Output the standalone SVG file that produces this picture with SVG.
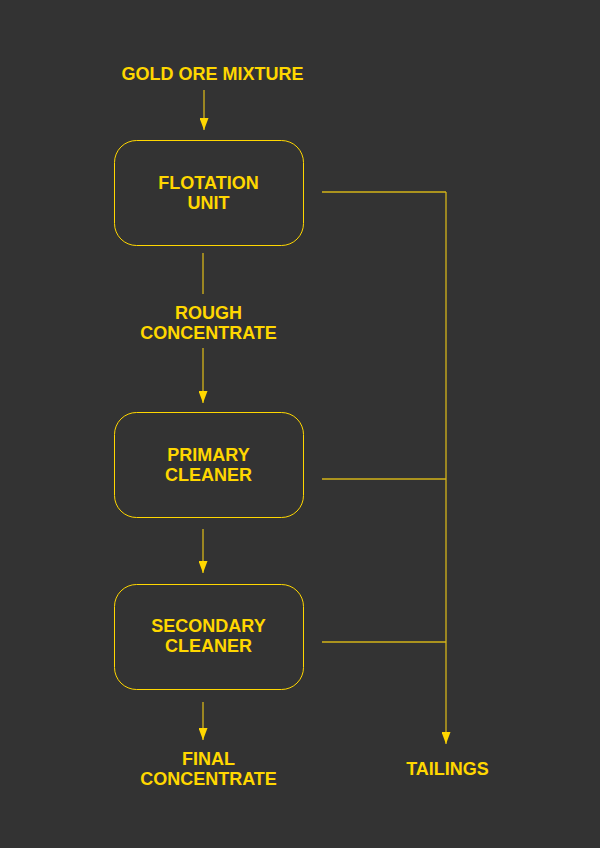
<svg xmlns="http://www.w3.org/2000/svg" width="600" height="848" viewBox="0 0 600 848">
<defs>
<marker id="ah" markerWidth="12" markerHeight="9" refX="12" refY="4.5" orient="auto" markerUnits="userSpaceOnUse" viewBox="0 0 12 9">
<path d="M0,0 L12,4.5 L0,9 Z" fill="#FFD700"/>
</marker>
</defs>
<style>
.box{fill:none;stroke:#FFD700;stroke-width:1}
.lbl{font-family:"Liberation Sans",Arial,sans-serif;font-weight:bold;font-size:18px;fill:#FFD700;text-anchor:middle}
.c{fill:none;stroke:#D4B419;stroke-width:1.3}
</style>
<rect width="600" height="848" fill="#333333"/>
<g id="connectors">
<line class="c" x1="204" y1="90" x2="204" y2="130" marker-end="url(#ah)"/>
<line class="c" x1="203" y1="253" x2="203" y2="294"/>
<line class="c" x1="203" y1="348" x2="203" y2="403" marker-end="url(#ah)"/>
<line class="c" x1="203" y1="529" x2="203" y2="573" marker-end="url(#ah)"/>
<line class="c" x1="203" y1="702" x2="203" y2="740" marker-end="url(#ah)"/>
<line class="c" x1="322" y1="192" x2="446" y2="192"/>
<line class="c" x1="322" y1="479" x2="446" y2="479"/>
<line class="c" x1="322" y1="642" x2="446" y2="642"/>
<line class="c" x1="446" y1="192" x2="446" y2="744" marker-end="url(#ah)"/>
</g>
<g id="gold-ore-mixture"><text class="lbl" x="212.5" y="80">GOLD ORE MIXTURE</text></g>
<g id="flotation-unit">
<rect class="box" x="114.5" y="140.5" width="189" height="105" rx="22"/>
<text class="lbl" x="208.5" y="189">FLOTATION</text>
<text class="lbl" x="208.5" y="209">UNIT</text>
</g>
<g id="rough-concentrate">
<text class="lbl" x="208.5" y="319">ROUGH</text>
<text class="lbl" x="208.5" y="339">CONCENTRATE</text>
</g>
<g id="primary-cleaner">
<rect class="box" x="114.5" y="412.5" width="189" height="105" rx="22"/>
<text class="lbl" x="208.5" y="461">PRIMARY</text>
<text class="lbl" x="208.5" y="481">CLEANER</text>
</g>
<g id="secondary-cleaner">
<rect class="box" x="114.5" y="584.5" width="189" height="105" rx="22"/>
<text class="lbl" x="208.5" y="632">SECONDARY</text>
<text class="lbl" x="208.5" y="652">CLEANER</text>
</g>
<g id="final-concentrate">
<text class="lbl" x="208.5" y="765">FINAL</text>
<text class="lbl" x="208.5" y="785">CONCENTRATE</text>
</g>
<g id="tailings"><text class="lbl" x="447.5" y="775">TAILINGS</text></g>
</svg>
